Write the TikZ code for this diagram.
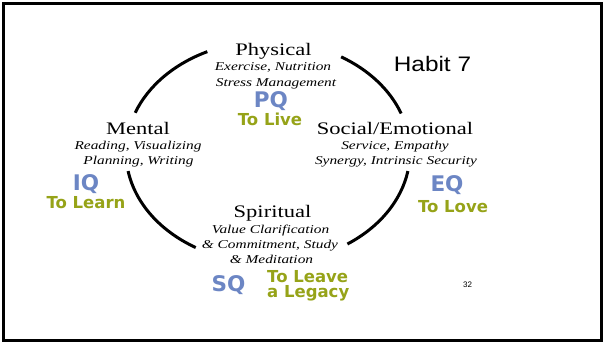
\documentclass[tikz,border=0pt]{standalone}
\usepackage{fontspec}
\setmainfont{Liberation Serif}[FakeStretch=1.28]
\newfontfamily\sansq{DejaVu Sans}
\newfontfamily\sansg{Liberation Sans}
\newfontfamily\sanshab{Liberation Sans}[FakeStretch=1.16]
\definecolor{qblue}{RGB}{108,134,196}
\definecolor{qgreen}{RGB}{150,163,24}
\tikzset{
  title/.style={font=\fontsize{17.6}{20}\selectfont, anchor=base, inner sep=0pt},
  sub/.style={font=\fontsize{12}{14}\selectfont\itshape, anchor=base, inner sep=0pt},
  qlab/.style={font=\sansq\bfseries\fontsize{21.5}{24}\selectfont, text=qblue, anchor=base, inner sep=0pt},
  glab/.style={font=\sansq\bfseries\fontsize{16.5}{18}\selectfont, text=qgreen, anchor=base, inner sep=0pt},
  ring/.style={line width=3pt, black},
}
\begin{document}
\begin{tikzpicture}[x=1pt,y=-1pt]
\useasboundingbox (0,0) rectangle (603,343);
\draw[line width=3pt] (3,3) rectangle (601.5,340);
% ring arcs (angles negated because the y axis points down)
\coordinate (c) at (268,152);
\draw[ring] (c) ++(-115.3:142 and 111) arc[start angle=-115.3, end angle=-159.3, x radius=142, y radius=111];
\draw[ring] (c) ++(-20.3:142 and 111) arc[start angle=-20.3, end angle=-59, x radius=142, y radius=111];
\draw[ring] (c) ++(-189.9:142 and 111) arc[start angle=-189.9, end angle=-239.4, x radius=142, y radius=111];
\draw[ring] (c) ++(56:142 and 111) arc[start angle=56, end angle=9.9, x radius=142, y radius=111];
% Physical
\node[title] (phys) at (273.5,55) {Physical};
\node[sub] (phys1) at (273,70.7) {Exercise, Nutrition};
\node[sub] (phys2) at (276,86) {Stress Management};
\node[qlab] (pq) at (271,107.5) {PQ};
\node[glab] (pqt) at (270,125) {To Live};
% Habit
\node[anchor=base, inner sep=0pt, font=\sanshab\fontsize{21}{24}\selectfont] (habit) at (432.5,71) {Habit 7};
% Mental
\node[title] (ment) at (138,134.5) {Mental};
\node[sub] (ment1) at (138,149.3) {Reading, Visualizing};
\node[sub] (ment2) at (138.5,164.3) {Planning, Writing};
\node[qlab] (iq) at (86,190.5) {IQ};
\node[glab] (iqt) at (86,208.5) {To Learn};
% Social
\node[title] (soc) at (395,134.5) {Social/Emotional};
\node[sub] (soc1) at (395,149) {Service, Empathy};
\node[sub] (soc2) at (396,164) {Synergy, Intrinsic Security};
\node[qlab] (eq) at (447,191) {EQ};
\node[glab] (eqt) at (453,212) {To Love};
% Spiritual
\node[title] (spir) at (272.5,217) {Spiritual};
\node[sub] (spir1) at (270.5,233) {Value Clarification};
\node[sub] (spir2) at (270,248) {\& Commitment, Study};
\node[sub] (spir3) at (271.5,263) {\& Meditation};
\node[qlab] (sq) at (228.5,291.5) {SQ};
\node[glab, anchor=base west] (sqt1) at (267,282) {To Leave};
\node[glab, anchor=base west] (sqt2) at (267,297) {a Legacy};
% page number
\node[anchor=base, inner sep=0pt, font=\sansg\fontsize{8}{9}\selectfont] (num) at (467.5,287) {32};
\end{tikzpicture}
\end{document}
